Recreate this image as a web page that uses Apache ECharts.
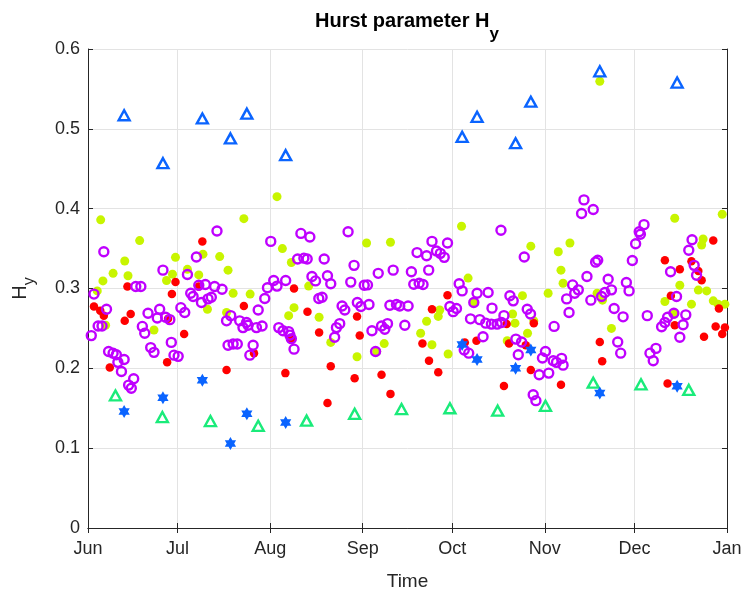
<!DOCTYPE html>
<html>
<head>
<meta charset="utf-8">
<script src="https://cdn.jsdelivr.net/npm/echarts@6/dist/echarts.min.js"></script>
<style>
  html, body { margin: 0; padding: 0; background: #fff; }
  #chart { width: 750px; height: 596px; }
</style>
</head>
<body>
<div id="chart"></div>
<script>
// Observation window: 1 Jun to 1 Jan; positions are given as days after 1 Jun.
const START = new Date(2023, 5, 1).getTime();
const END = new Date(2024, 0, 1).getTime();
const DAY = 86400000;
const monthNames = ['Jan','Feb','Mar','Apr','May','Jun','Jul','Aug','Sep','Oct','Nov','Dec'];
const yTicks = [0, 0.1, 0.2, 0.3, 0.4, 0.5, 0.6];

// Event days shared by the upper triangles and the stars
const eventDays = [12.1, 25.1, 38.3, 47.7, 53.2, 66.2, 125.3, 130.3, 143.2, 148.3, 171.4, 197.3];
const eventHigh = [0.517, 0.457, 0.513, 0.488, 0.519, 0.467, 0.490, 0.515, 0.482, 0.534, 0.572, 0.558];
const eventLow  = [0.146, 0.163, 0.185, 0.106, 0.143, 0.132, 0.230, 0.211, 0.200, 0.223, 0.169, 0.1775];

// Green triangles, roughly every 16 days
const greenDays = [9.2, 24.9, 41, 57, 73.2, 89.3, 105, 121.2, 137.2, 153.2, 169.2, 185.2, 201.2];
const greenH    = [0.166, 0.139, 0.134, 0.128, 0.1345, 0.143, 0.149, 0.150, 0.147, 0.153, 0.182, 0.180, 0.173];

// Red dots
const redDays = [2.0, 4.1, 5.3, 7.3, 12.3, 13.2, 14.3, 26.5, 26.8, 28.1, 29.3, 32.2, 37.1, 38.3, 46.4,
  52.2, 55.6, 66.1, 68.1, 69.0, 73.5, 77.4, 80.2, 81.3, 89.3, 90.1, 91.0, 98.3, 101.3,
  112.0, 114.2, 115.2, 117.3, 120.4, 126.2, 130.1, 139.3, 140.2, 141.0, 146.6, 148.3, 149.3, 158.4,
  171.4, 172.2, 193.2, 194.1, 195.2, 196.5, 198.2, 202.1, 204.4, 205.5, 206.3, 209.4, 210.2, 211.3, 212.4, 213.3];
const redH = [0.2775, 0.272, 0.266, 0.201, 0.2595, 0.3025, 0.268, 0.2075, 0.262, 0.293, 0.308, 0.243, 0.3025, 0.359, 0.198,
  0.278, 0.219, 0.194, 0.237, 0.300, 0.271, 0.245, 0.1566, 0.2025, 0.1875, 0.265, 0.241, 0.192, 0.168,
  0.231, 0.2095, 0.274, 0.195, 0.2916, 0.2325, 0.2345, 0.178, 0.2554, 0.231, 0.229, 0.198, 0.2566, 0.1795,
  0.233, 0.209, 0.3354, 0.181, 0.2908, 0.254, 0.324, 0.334, 0.322, 0.3104, 0.2395, 0.360, 0.2525, 0.275, 0.243, 0.251];

// Yellow-green dots
const limeDays = [3.1, 4.25, 5.0, 5.9, 8.4, 12.3, 13.4, 17.3, 22.1, 26.3, 28.3, 29.3, 33.3, 37.1, 38.5, 40.0,
  44.1, 46.4, 46.9, 48.6, 52.2, 54.3, 63.3, 65.1, 67.2, 68.1, 69.0, 73.9, 77.4, 81.3, 90.1, 93.3,
  96.7, 99.2, 101.3, 111.4, 113.4, 115.2, 117.3, 117.8, 120.6, 125.1, 127.3, 129.2, 140.4, 142.2,
  143.0, 145.5, 147.2, 148.3, 149.3, 154.1, 157.5, 158.4, 159.1, 161.4, 170.5, 171.4, 172.3, 175.3,
  193.2, 196.3, 196.5, 198.2, 202.1, 204.4, 205.5, 206.0, 207.2, 209.4, 211.0, 212.4, 213.3];
const limeH = [0.297, 0.386, 0.3095, 0.254, 0.319, 0.3345, 0.316, 0.360, 0.248, 0.310, 0.318, 0.339, 0.324, 0.317, 0.343, 0.274,
  0.340, 0.270, 0.323, 0.294, 0.3875, 0.293, 0.415, 0.350, 0.266, 0.3325, 0.276, 0.303, 0.264, 0.2325, 0.2145, 0.357,
  0.221, 0.231, 0.358, 0.244, 0.259, 0.2295, 0.265, 0.273, 0.218, 0.378, 0.313, 0.2825, 0.2345, 0.268,
  0.2566, 0.291, 0.244, 0.353, 0.2595, 0.294, 0.346, 0.323, 0.3066, 0.357, 0.294, 0.5595, 0.2854, 0.25,
  0.2837, 0.268, 0.388, 0.304, 0.2804, 0.298, 0.3545, 0.362, 0.297, 0.2845, 0.2804, 0.393, 0.2804];

// Magenta open circles
const ringDays = [1.1, 2.0, 3.4, 4.7, 5.3, 6.2, 6.9, 8.4, 9.5, 10.0, 11.2, 12.1, 13.6, 14.5, 15.3, 16.0, 17.7,
  18.2, 19.0, 20.1, 21.0, 22.1, 23.2, 24.0, 25.1, 26.0, 27.4, 27.9, 28.8, 30.2, 31.1, 32.4, 33.3, 34.4,
  35.2, 36.3, 37.1, 38.0, 39.3, 40.2, 41.3, 42.4, 43.2, 44.9, 46.4, 46.9, 47.8, 48.6, 50.0, 50.8, 51.9,
  53.1, 53.6, 54.2, 55.3, 56.4, 57.0, 58.3, 59.2, 60.1, 61.2, 62.2, 63.3, 63.9, 65.3, 66.2, 67.2, 67.6,
  68.1, 69.0, 70.2, 71.3, 72.3, 73.4, 74.3, 75.0, 76.2, 77.3, 78.4, 79.1, 80.2, 81.3, 82.6, 83.2, 84.3,
  85.1, 86.0, 87.1, 88.0, 89.1, 90.2, 91.4, 92.5, 93.6, 94.1, 95.1, 96.3, 97.2, 98.3, 99.4, 100.3, 101.1,
  102.2, 103.3, 104.4, 106.1, 107.2, 108.3, 109.1, 110.2, 110.9, 112.2, 113.4, 114.1, 115.2, 116.7, 118.0,
  119.3, 120.4, 121.2, 122.3, 123.4, 124.3, 125.3, 126.0, 127.5, 128.1, 129.2, 130.3, 131.2, 132.3, 133.2,
  134.0, 135.1, 135.3, 137.0, 138.3, 138.5, 139.3, 141.3, 142.4, 143.3, 144.1, 145.2, 146.1, 147.1, 148.2,
  149.1, 150.0, 151.1, 152.2, 153.2, 154.3, 155.8, 156.1, 156.9, 158.6, 159.1, 160.3, 161.1, 162.3, 163.0,
  164.2, 165.3, 166.1, 167.1, 168.4, 169.2, 170.0, 170.7, 172.0, 173.1, 174.2, 175.3, 176.2, 177.4, 178.4,
  179.2, 180.3, 181.2, 182.3, 183.4, 184.6, 185.0, 186.2, 187.3, 188.2, 189.3, 190.2, 192.1, 193.2, 194.1,
  195.1, 196.2, 197.1, 198.2, 199.3, 200.2, 201.2, 202.3, 203.0, 203.8];
const ringH = [0.241, 0.293, 0.253, 0.253, 0.346, 0.274, 0.221, 0.219, 0.217, 0.2075, 0.196, 0.211, 0.179, 0.175, 0.187, 0.3025, 0.3025,
  0.2525, 0.244, 0.269, 0.226, 0.220, 0.263, 0.274, 0.323, 0.264, 0.261, 0.2325, 0.2165, 0.215, 0.276, 0.270, 0.3175, 0.294,
  0.290, 0.3395, 0.304, 0.2825, 0.305, 0.287, 0.289, 0.3025, 0.372, 0.299, 0.2595, 0.229, 0.266, 0.2305, 0.2305, 0.2595, 0.251,
  0.2575, 0.254, 0.2165, 0.229, 0.251, 0.273, 0.253, 0.2875, 0.301, 0.359, 0.310, 0.303, 0.251, 0.247, 0.310, 0.246, 0.2416,
  0.237, 0.224, 0.337, 0.369, 0.338, 0.337, 0.3645, 0.315, 0.3095, 0.2875, 0.289, 0.337, 0.316, 0.306, 0.239, 0.251, 0.256,
  0.278, 0.273, 0.371, 0.308, 0.329, 0.2825, 0.2775, 0.304, 0.3045, 0.280, 0.247, 0.221, 0.319, 0.253, 0.249, 0.256, 0.279,
  0.323, 0.280, 0.278, 0.254, 0.278, 0.321, 0.3054, 0.345, 0.3066, 0.305, 0.341, 0.323, 0.359, 0.347, 0.344,
  0.339, 0.357, 0.2775, 0.271, 0.275, 0.306, 0.297, 0.223, 0.219, 0.262, 0.2825, 0.294, 0.261, 0.2395, 0.2566,
  0.295, 0.2554, 0.2754, 0.2554, 0.373, 0.2575, 0.266, 0.291, 0.2845, 0.2366, 0.217, 0.233, 0.3395, 0.274, 0.268,
  0.167, 0.1595, 0.192, 0.213, 0.221, 0.194, 0.2095, 0.2525, 0.2075, 0.2125, 0.204, 0.287, 0.270, 0.3045, 0.294,
  0.2983, 0.394, 0.411, 0.315, 0.2854, 0.399, 0.333, 0.3354, 0.290, 0.295, 0.3116, 0.2983, 0.275, 0.233, 0.219,
  0.2645, 0.3075, 0.297, 0.335, 0.356, 0.371, 0.368, 0.380, 0.266, 0.219, 0.2095, 0.225, 0.252, 0.2575, 0.264,
  0.321, 0.269, 0.290, 0.239, 0.2545, 0.267, 0.348, 0.361, 0.329, 0.3166];

function toPoints(days, values) {
  return days.map((d, i) => [START + d * DAY, values[i]]);
}

const HEXAGRAM = 'path://M50 0L64.43 25L93.3 25L78.87 50L93.3 75L64.43 75L50 100L35.57 75L6.7 75L21.13 50L6.7 25L35.57 25Z';
const AXIS_COLOR = '#262626';
const GRID_COLOR = '#e3e3e3';
const FONT = "'Liberation Sans', Arial, Helvetica, sans-serif";

const chart = echarts.init(document.getElementById('chart'), null, { renderer: 'canvas' });

const timeAxisBase = {
  type: 'time',
  min: START,
  max: END,
  minInterval: 28 * DAY,
  maxInterval: 31 * DAY,
  axisLine: { show: true, lineStyle: { color: AXIS_COLOR, width: 1 } }
};
const valueAxisBase = {
  type: 'value',
  min: 0,
  max: 0.6,
  interval: 0.1,
  axisLine: { show: true, lineStyle: { color: AXIS_COLOR, width: 1 } }
};

chart.setOption({
  animation: false,
  backgroundColor: '#ffffff',
  grid: { left: 88, right: 23, top: 49, bottom: 67, containLabel: false },
  graphic: [{
    type: 'text',
    x: 407,
    y: 11,
    style: {
      text: '{t|Hurst parameter H}{s|y}',
      textAlign: 'center',
      rich: {
        t: { fontFamily: FONT, fontSize: 20, fontWeight: 'bold', fill: '#000', lineHeight: 32, verticalAlign: 'top' },
        s: { fontFamily: FONT, fontSize: 17, fontWeight: 'bold', fill: '#000', lineHeight: 32, verticalAlign: 'bottom' }
      }
    }
  }],
  xAxis: [
    Object.assign({}, timeAxisBase, {
      position: 'bottom',
      name: 'Time',
      nameLocation: 'middle',
      nameGap: 44,
      nameTextStyle: { fontFamily: FONT, fontSize: 19, color: AXIS_COLOR },
      axisTick: { show: true, inside: true, length: 5, lineStyle: { color: AXIS_COLOR } },
      axisLabel: {
        show: true, margin: 12, fontFamily: FONT, fontSize: 18, color: AXIS_COLOR,
        showMinLabel: true, showMaxLabel: true,
        formatter: (val) => monthNames[new Date(val).getMonth()]
      },
      splitLine: { show: true, lineStyle: { color: GRID_COLOR, width: 1 } }
    }),
    Object.assign({}, timeAxisBase, {
      position: 'top',
      axisTick: { show: true, inside: true, length: 5, lineStyle: { color: AXIS_COLOR } },
      axisLabel: { show: false },
      splitLine: { show: false }
    })
  ],
  yAxis: [
    Object.assign({}, valueAxisBase, {
      position: 'left',
      name: '{h|H}{s|y}',
      nameLocation: 'middle',
      nameRotate: 90,
      nameGap: 50,
      nameTextStyle: {
        rich: {
          h: { fontFamily: FONT, fontSize: 20, color: AXIS_COLOR, lineHeight: 28, verticalAlign: 'top' },
          s: { fontFamily: FONT, fontSize: 16, color: AXIS_COLOR, lineHeight: 28, verticalAlign: 'bottom' }
        }
      },
      axisTick: { show: true, inside: true, length: 5, lineStyle: { color: AXIS_COLOR } },
      axisLabel: {
        margin: 8, fontFamily: FONT, fontSize: 18, color: AXIS_COLOR,
        customValues: yTicks,
        formatter: (v) => (v === 0 ? '0' : v.toFixed(1))
      },
      splitLine: { show: true, lineStyle: { color: GRID_COLOR, width: 1 } }
    }),
    Object.assign({}, valueAxisBase, {
      position: 'right',
      axisTick: { show: true, inside: true, length: 5, lineStyle: { color: AXIS_COLOR } },
      axisLabel: { show: false },
      splitLine: { show: false }
    })
  ],
  series: [
    {
      name: 'lime', type: 'scatter', data: toPoints(limeDays, limeH),
      symbol: 'circle', symbolSize: 9,
      itemStyle: { color: '#c8f500', opacity: 1 }, z: 2
    },
    {
      name: 'red', type: 'scatter', data: toPoints(redDays, redH),
      symbol: 'circle', symbolSize: 8.5,
      itemStyle: { color: '#ff0000', opacity: 1 }, z: 3
    },
    {
      name: 'ring', type: 'scatter', data: toPoints(ringDays, ringH),
      symbol: 'circle', symbolSize: 9,
      itemStyle: { color: 'rgba(255,255,255,0)', borderColor: '#bf00ff', borderWidth: 2.4, opacity: 1 }, z: 4
    },
    {
      name: 'greenTriangle', type: 'scatter', data: toPoints(greenDays, greenH),
      symbol: 'triangle', symbolSize: [11, 10],
      itemStyle: { color: 'rgba(255,255,255,0)', borderColor: '#1aeb7a', borderWidth: 2.4, opacity: 1 }, z: 5
    },
    {
      name: 'blueTriangle', type: 'scatter', data: toPoints(eventDays, eventHigh),
      symbol: 'triangle', symbolSize: [11, 10],
      itemStyle: { color: 'rgba(255,255,255,0)', borderColor: '#0a64ff', borderWidth: 2.4, opacity: 1 }, z: 6
    },
    {
      name: 'blueStar', type: 'scatter', data: toPoints(eventDays, eventLow),
      symbol: HEXAGRAM, symbolSize: 13, symbolKeepAspect: true,
      itemStyle: { color: '#0a64ff', opacity: 1 }, z: 7
    }
  ]
});
</script>
</body>
</html>
